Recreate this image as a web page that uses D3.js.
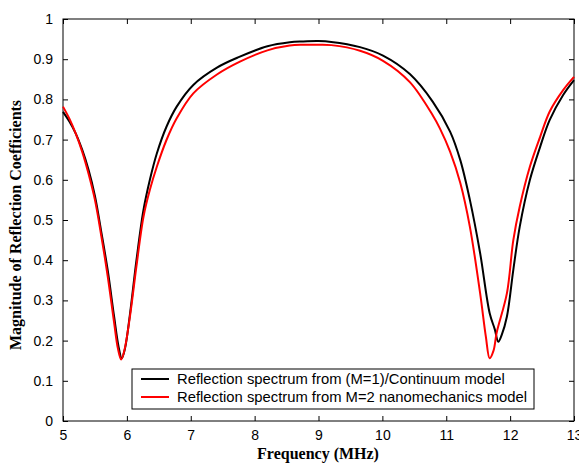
<!DOCTYPE html>
<html>
<head>
<meta charset="utf-8">
<script src="https://cdn.jsdelivr.net/npm/d3@7"></script>
<style>
  html, body { margin: 0; padding: 0; background: #fff; }
  svg { display: block; }
</style>
</head>
<body>
<svg id="chart" width="579" height="464"></svg>
<script>
// ---- data ----
const freqBlack = [5.00,5.10,5.20,5.30,5.40,5.50,5.60,5.70,5.80,5.87,5.92,5.97,6.05,6.15,6.26,6.36,6.47,6.62,6.78,7.04,7.41,7.75,8.20,8.55,8.75,9.00,9.20,9.65,10.01,10.43,10.79,11.06,11.22,11.37,11.53,11.68,11.76,11.815,11.87,11.95,12.05,12.15,12.31,12.47,12.62,12.83,13.00];
const magBlack  = [0.769,0.745,0.715,0.675,0.625,0.56,0.47,0.375,0.26,0.185,0.156,0.18,0.268,0.40,0.525,0.60,0.666,0.732,0.782,0.836,0.879,0.905,0.932,0.942,0.944,0.945,0.943,0.93,0.909,0.863,0.794,0.72,0.649,0.55,0.418,0.268,0.228,0.197,0.215,0.26,0.376,0.483,0.60,0.682,0.749,0.811,0.848];
const freqRed = [5.00,5.10,5.20,5.30,5.40,5.50,5.60,5.70,5.80,5.86,5.91,5.96,6.05,6.15,6.26,6.36,6.47,6.62,6.78,7.04,7.41,7.77,8.20,8.55,8.75,9.00,9.20,9.65,10.01,10.43,10.79,10.90,11.06,11.22,11.37,11.53,11.62,11.68,11.74,11.79,11.95,12.05,12.15,12.31,12.47,12.62,12.83,13.00];
const magRed  = [0.782,0.752,0.715,0.67,0.615,0.55,0.46,0.36,0.245,0.18,0.153,0.175,0.262,0.385,0.508,0.575,0.633,0.699,0.753,0.815,0.862,0.894,0.922,0.934,0.936,0.936,0.935,0.921,0.896,0.843,0.76,0.728,0.67,0.592,0.483,0.318,0.21,0.156,0.175,0.22,0.318,0.45,0.533,0.633,0.707,0.77,0.823,0.856];
const xTicks = [5,6,7,8,9,10,11,12,13];
const yTicks = [0,0.1,0.2,0.3,0.4,0.5,0.6,0.7,0.8,0.9,1];
const seriesNames = ["Reflection spectrum from (M=1)/Continuum model",
                     "Reflection spectrum from M=2 nanomechanics model"];
const seriesColors = ["#000000", "#ff0000"];
const xTitle = "Frequency (MHz)";
const yTitle = "Magnitude of Reflection Coefficients";

// ---- layout ----
const L = 63, R = 574, T = 19, B = 421;
const svg = d3.select("#chart");
const x = d3.scaleLinear().domain([5, 13]).range([L, R]);
const y = d3.scaleLinear().domain([0, 1]).range([B, T]);

const tickFont = "'Liberation Sans', Arial, sans-serif";
const titleFont = "'Liberation Serif', 'Times New Roman', serif";

// box
svg.append("rect").attr("x", L).attr("y", T).attr("width", R - L).attr("height", B - T)
  .attr("fill", "none").attr("stroke", "#000").attr("stroke-width", 1);

// axes with inward ticks
const axB = svg.append("g").attr("transform", `translate(0,${B})`)
  .call(d3.axisBottom(x).tickValues(xTicks).tickSize(-5).tickPadding(9).tickFormat(d3.format("d")));
const axT = svg.append("g").attr("transform", `translate(0,${T})`)
  .call(d3.axisTop(x).tickValues(xTicks).tickSize(-5).tickFormat(""));
const axL = svg.append("g").attr("transform", `translate(${L},0)`)
  .call(d3.axisLeft(y).tickValues(yTicks).tickSize(-5).tickPadding(10).tickFormat(d => d === 0 ? "0" : d === 1 ? "1" : d3.format(".1f")(d)));
const axR = svg.append("g").attr("transform", `translate(${R},0)`)
  .call(d3.axisRight(y).tickValues(yTicks).tickSize(-5).tickFormat(""));
[axB, axT, axL, axR].forEach(g => {
  g.select(".domain").remove();
  g.selectAll("line").attr("stroke", "#000");
  g.selectAll("text").attr("font-family", tickFont).attr("font-size", 14).attr("fill", "#000");
});

// lines
const line = d3.line().x(d => x(d[0])).y(d => y(d[1])).curve(d3.curveCatmullRom.alpha(0.5));
const dataBlack = freqBlack.map((f, i) => [f, magBlack[i]]);
const dataRed = freqRed.map((f, i) => [f, magRed[i]]);
svg.append("path").datum(dataBlack).attr("d", line).attr("fill", "none")
  .attr("stroke", seriesColors[0]).attr("stroke-width", 2);
svg.append("path").datum(dataRed).attr("d", line).attr("fill", "none")
  .attr("stroke", seriesColors[1]).attr("stroke-width", 2);

// legend
const lg = svg.append("g");
lg.append("rect").attr("x", 132).attr("y", 369).attr("width", 402).attr("height", 40)
  .attr("fill", "#fff").attr("stroke", "#000").attr("stroke-width", 1);
seriesNames.forEach((name, i) => {
  const yy = 379 + i * 18;
  lg.append("line").attr("x1", 141).attr("x2", 169).attr("y1", yy).attr("y2", yy)
    .attr("stroke", seriesColors[i]).attr("stroke-width", 2);
  lg.append("text").attr("x", 177).attr("y", yy).attr("dy", "0.35em")
    .attr("font-family", tickFont).attr("font-size", 14.8).attr("fill", "#000").text(name);
});

// titles
svg.append("text").attr("x", 318).attr("y", 459).attr("text-anchor", "middle")
  .attr("font-family", titleFont).attr("font-weight", "bold").attr("font-size", 16).text(xTitle);
svg.append("text").attr("transform", `translate(21,${(T + B) / 2 + 5}) rotate(-90)`)
  .attr("text-anchor", "middle")
  .attr("font-family", titleFont).attr("font-weight", "bold").attr("font-size", 16).text(yTitle);
</script>
</body>
</html>
